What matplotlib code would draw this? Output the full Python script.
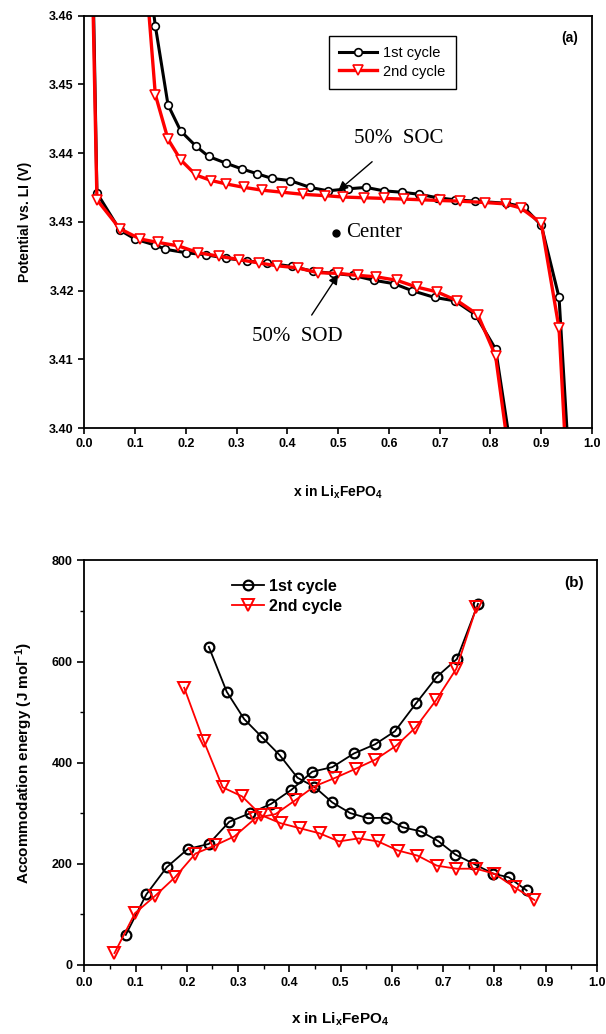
import matplotlib
matplotlib.use("Agg")
import matplotlib.pyplot as plt

plt.rcParams["font.family"] = ["Liberation Sans", "DejaVu Sans"]
plt.rcParams["mathtext.fontset"] = "custom"
plt.rcParams["mathtext.rm"] = "Liberation Sans:bold"
plt.rcParams["mathtext.bf"] = "Liberation Sans:bold"
plt.rcParams["mathtext.default"] = "bf"

# ---- panel (a): potential curves ----
charge1_x = [0.133, 0.140, 0.165, 0.190, 0.220, 0.245, 0.280, 0.310, 0.340, 0.370, 0.405,
             0.445, 0.480, 0.520, 0.555, 0.590, 0.625, 0.660, 0.695, 0.730, 0.770, 0.830,
             0.865, 0.900, 0.935, 0.952]
charge1_v = [3.4625, 3.4585, 3.4470, 3.4432, 3.4410, 3.4395, 3.4385, 3.4377, 3.4370, 3.4363, 3.4360,
             3.4350, 3.4345, 3.4348, 3.4350, 3.4345, 3.4343, 3.4340, 3.4335, 3.4332, 3.4330, 3.4327,
             3.4322, 3.4295, 3.4190, 3.3980]
charge2_x = [0.125, 0.140, 0.165, 0.190, 0.220, 0.250, 0.280, 0.315, 0.350, 0.390, 0.430,
             0.475, 0.510, 0.550, 0.590, 0.630, 0.665, 0.700, 0.740, 0.790, 0.830, 0.860,
             0.900, 0.935, 0.947]
charge2_v = [3.4625, 3.4485, 3.4420, 3.4390, 3.4368, 3.4360, 3.4355, 3.4350, 3.4346, 3.4343, 3.4340,
             3.4338, 3.4336, 3.4335, 3.4334, 3.4333, 3.4332, 3.4331, 3.4330, 3.4328, 3.4326, 3.4320,
             3.4298, 3.4145, 3.3980]
dis1_x = [0.018, 0.025, 0.070, 0.100, 0.140, 0.160, 0.200, 0.240, 0.280, 0.320, 0.360, 0.410,
          0.450, 0.490, 0.530, 0.570, 0.610, 0.645, 0.690, 0.730, 0.770, 0.810, 0.838]
dis1_v = [3.4625, 3.4342, 3.4288, 3.4275, 3.4266, 3.4260, 3.4255, 3.4252, 3.4247, 3.4243, 3.4240,
          3.4235, 3.4228, 3.4225, 3.4222, 3.4215, 3.4210, 3.4200, 3.4190, 3.4185, 3.4165, 3.4115,
          3.3980]
dis2_x = [0.017, 0.025, 0.070, 0.110, 0.145, 0.185, 0.225, 0.265, 0.305, 0.345, 0.380, 0.420,
          0.460, 0.500, 0.540, 0.575, 0.615, 0.655, 0.695, 0.735, 0.775, 0.810, 0.833]
dis2_v = [3.4625, 3.4332, 3.4290, 3.4275, 3.4270, 3.4265, 3.4255, 3.4250, 3.4245, 3.4240, 3.4236,
          3.4233, 3.4226, 3.4225, 3.4222, 3.4220, 3.4215, 3.4205, 3.4198, 3.4185, 3.4165, 3.4105,
          3.3980]

# ---- panel (b): accommodation energy ----
e1_down_x = [0.243, 0.278, 0.312, 0.347, 0.381, 0.416, 0.449, 0.484, 0.519, 0.553, 0.588,
             0.621, 0.656, 0.690, 0.724, 0.759, 0.798, 0.828, 0.863]
e1_down_y = [629, 540, 486, 450, 415, 370, 352, 321, 300, 290, 291, 272, 264, 245, 218, 200,
             180, 173, 147]
e1_up_x = [0.081, 0.121, 0.161, 0.202, 0.243, 0.283, 0.324, 0.364, 0.404, 0.445, 0.484,
           0.526, 0.567, 0.606, 0.647, 0.688, 0.727, 0.768]
e1_up_y = [59, 139, 193, 229, 239, 283, 300, 318, 346, 382, 391, 418, 436, 462, 517, 570,
           605, 714]
e2_down_x = [0.195, 0.233, 0.270, 0.308, 0.345, 0.383, 0.421, 0.459, 0.497, 0.535, 0.573,
             0.612, 0.650, 0.688, 0.726, 0.764, 0.800, 0.840, 0.878]
e2_down_y = [548, 443, 351, 333, 296, 280, 270, 260, 244, 250, 244, 226, 216, 196, 190, 190,
             180, 153, 128]
e2_up_x = [0.059, 0.099, 0.138, 0.177, 0.217, 0.255, 0.293, 0.334, 0.373, 0.411, 0.449,
           0.490, 0.530, 0.568, 0.608, 0.646, 0.686, 0.726, 0.765]
e2_up_y = [23, 102, 136, 173, 220, 236, 254, 290, 298, 325, 353, 370, 388, 406, 433, 469,
           523, 586, 707]

x_ticks = [0.0, 0.1, 0.2, 0.3, 0.4, 0.5, 0.6, 0.7, 0.8, 0.9, 1.0]

fig = plt.figure(figsize=(6.06, 10.34), dpi=100)

# Panel (a)
ax1 = fig.add_axes([0.139, 0.586, 0.838, 0.399])
black_a = dict(color="black", lw=2.2, marker="o", ms=5.5, mfc="white", mec="black", mew=1.2)
red_a = dict(color="red", lw=2.4, marker="v", ms=6.5, mfc="white", mec="red", mew=1.2)
ax1.plot(charge1_x, charge1_v, label="1st cycle", **black_a)
ax1.plot(dis1_x, dis1_v, **black_a)
ax1.plot(charge2_x, charge2_v, label="2nd cycle", **red_a)
ax1.plot(dis2_x, dis2_v, **red_a)
ax1.set_xlim(0, 1)
ax1.set_ylim(3.40, 3.46)
ax1.set_xticks(x_ticks)
ax1.set_xticklabels(["%.1f" % t for t in x_ticks])
ax1.set_yticks([3.40, 3.41, 3.42, 3.43, 3.44, 3.45, 3.46])
ax1.set_yticklabels(["3.40", "3.41", "3.42", "3.43", "3.44", "3.45", "3.46"])
ax1.tick_params(direction="out", labelsize=9, length=4, width=1.2)
for lab in ax1.get_xticklabels() + ax1.get_yticklabels():
    lab.set_fontweight("bold")
for s in ax1.spines.values():
    s.set_linewidth(1.3)
ax1.set_xlabel(r"x in Li$_x$FePO$_4$", fontsize=10, fontweight="bold", labelpad=24)
ax1.set_ylabel("Potential vs. LI (V)", fontsize=10, fontweight="bold", labelpad=12)
ax1.text(0.955, 0.945, "(a)", transform=ax1.transAxes, fontsize=10, fontweight="bold",
         ha="center", va="center")
leg = ax1.legend(loc="upper left", bbox_to_anchor=(0.468, 0.968), fontsize=10.5,
                 handlelength=2.6, fancybox=False, edgecolor="black", framealpha=1,
                 borderpad=0.7, labelspacing=0.3, handletextpad=0.4)
leg.get_frame().set_linewidth(1.0)
ax1.annotate("50%  SOC", xy=(0.50, 3.4345), xytext=(0.62, 3.4421), fontsize=15,
             family="Liberation Serif", ha="center", va="center",
             arrowprops=dict(arrowstyle="-|>", color="black", lw=1, shrinkA=12, shrinkB=0,
                             mutation_scale=14))
ax1.plot([0.496], [3.4284], "o", color="black", ms=5)
ax1.text(0.515, 3.4284, "Center", fontsize=15, family="Liberation Serif", va="center")
ax1.annotate("50%  SOD", xy=(0.50, 3.4223), xytext=(0.42, 3.4133), fontsize=15,
             family="Liberation Serif", ha="center", va="center",
             arrowprops=dict(arrowstyle="-|>", color="black", lw=1, shrinkA=8, shrinkB=0,
                             mutation_scale=14))

# Panel (b)
ax2 = fig.add_axes([0.139, 0.067, 0.846, 0.391])
black_b = dict(color="black", lw=1.3, marker="o", ms=7, mfc="none", mec="black", mew=1.6)
red_b = dict(color="red", lw=1.3, marker="v", ms=8, mfc="none", mec="red", mew=1.4)
ax2.plot(e1_down_x, e1_down_y, label="1st cycle", **black_b)
ax2.plot(e1_up_x, e1_up_y, **black_b)
ax2.plot(e2_down_x, e2_down_y, label="2nd cycle", **red_b)
ax2.plot(e2_up_x, e2_up_y, **red_b)
ax2.set_xlim(0, 1)
ax2.set_ylim(0, 800)
ax2.set_xticks(x_ticks)
ax2.set_xticklabels(["%.1f" % t for t in x_ticks])
ax2.set_xticks([0.05 + 0.1 * i for i in range(10)], minor=True)
ax2.set_yticks([0, 200, 400, 600, 800])
ax2.set_yticks([100, 300, 500, 700], minor=True)
ax2.tick_params(direction="out", labelsize=9, length=5, width=1.2)
ax2.tick_params(which="minor", direction="out", length=3, width=1.0)
for lab in ax2.get_xticklabels() + ax2.get_yticklabels():
    lab.set_fontweight("bold")
for s in ax2.spines.values():
    s.set_linewidth(1.3)
ax2.set_xlabel(r"x in Li$_x$FePO$_4$", fontsize=11, fontweight="bold", labelpad=16)
ax2.set_ylabel(r"Accommodation energy (J mol$^{-1}$)", fontsize=11, fontweight="bold",
               labelpad=12)
ax2.text(0.955, 0.945, "(b)", transform=ax2.transAxes, fontsize=11, fontweight="bold",
         ha="center", va="center")
ax2.legend(loc="upper left", bbox_to_anchor=(0.26, 0.99), frameon=False,
           handlelength=2.0, handletextpad=0.3, labelspacing=0.3,
           prop={"weight": "bold", "size": 11.5})

fig.savefig("out.png", dpi=100)
